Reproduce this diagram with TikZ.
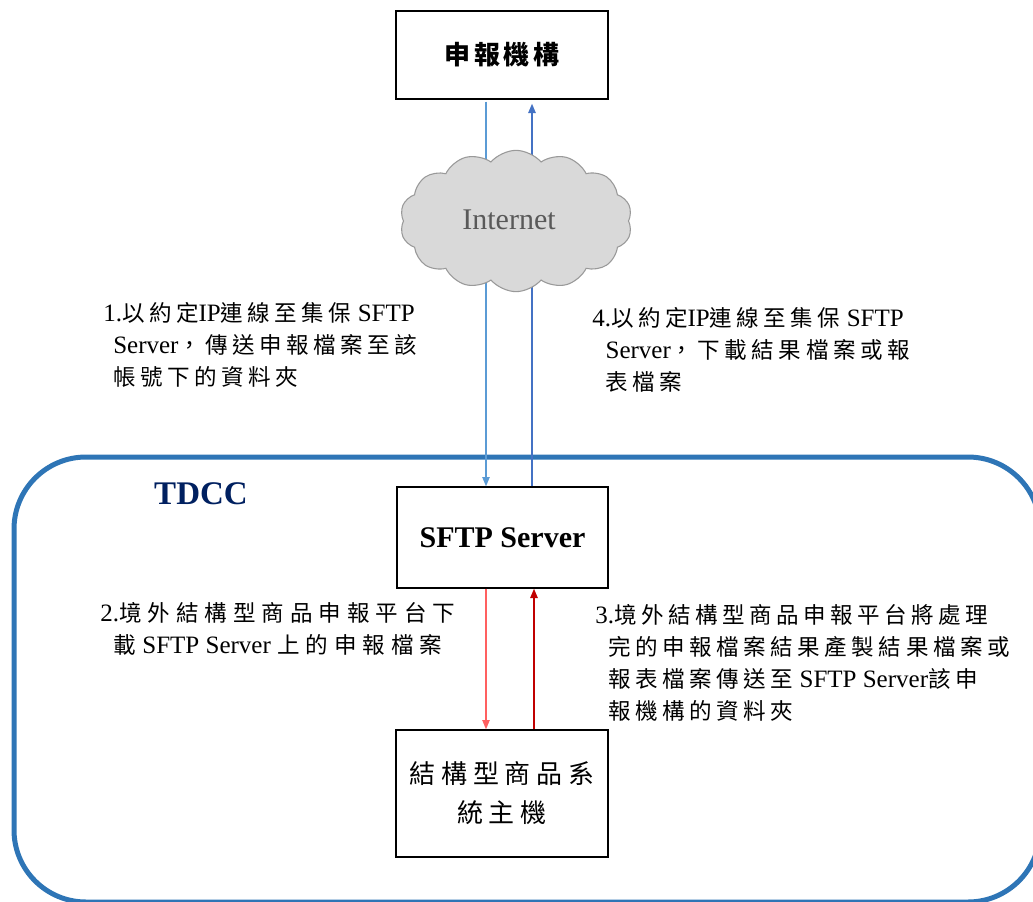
\documentclass[tikz,border=0pt]{standalone}
\usepackage{fontspec}
\setmainfont{Liberation Serif}
\newfontfamily\cjk[LetterSpace=20]{Noto Sans CJK TC}
\newfontfamily\cjkw[LetterSpace=26.5]{Noto Sans CJK TC}
\newfontfamily\cjkt[LetterSpace=15]{Noto Sans CJK TC}
\newfontfamily\cjkh[LetterSpace=22]{Noto Sans CJK TC}
\usetikzlibrary{arrows.meta,shapes.symbols}
\definecolor{tdccblue}{RGB}{46,117,182}
\definecolor{tdccnavy}{RGB}{0,32,96}
\definecolor{arrblueA}{RGB}{91,155,213}
\definecolor{arrblueB}{RGB}{68,114,196}
\definecolor{arrredA}{RGB}{255,96,96}
\definecolor{arrredB}{RGB}{192,0,0}
\newcommand\zh[1]{{\cjk\fontsize{16.9}{24}\selectfont #1}}
\newcommand\zhw[1]{{\cjkw\fontsize{16.9}{24}\selectfont #1}}
\tikzset{
  box/.style={draw=black, line width=1pt, fill=white, inner sep=0pt},
  lab/.style={align=left, anchor=north west, inner sep=0pt, font=\fontsize{18.75}{24}\selectfont},
  conn/.style={line width=1pt, -{Triangle[length=7pt,width=5.5pt]}},
}
\begin{document}
\begin{tikzpicture}[x=0.75pt,y=-0.75pt]
\useasboundingbox (0,0) rectangle (1033,901);
\clip (0,0) rectangle (1033,901);
\fill[white] (0,0) rectangle (1033,901);
% container
\draw[tdccblue, line width=3.75pt, rounded corners=54pt] (14,457) rectangle (1040,902);
% boxes
\node[box, minimum width=159pt, minimum height=66pt, font=\cjkt\bfseries\fontsize{19.5}{24}\selectfont] (top) at (502,55)
  {申報機構};
\node[box, minimum width=158.25pt, minimum height=75.75pt, font=\bfseries\fontsize{22.5}{26}\selectfont] (sftp) at (502.5,537.5)
  {SFTP Server};
\node[box, minimum width=159pt, minimum height=95.25pt, align=center, font=\cjkh\fontsize{19.5}{29.25}\selectfont] (host) at (502,793.5)
  {結構型商品系\\統主機};
% connector x positions
\coordinate (xa) at (486,0);
\coordinate (xb) at (532,0);
\coordinate (xc) at (486,0);
\coordinate (xd) at (534,0);
\draw[conn, arrblueA] ([yshift=-1.5pt]xa |- top.south) -- (xa |- sftp.north);
\draw[conn, arrblueB, line width=1.2pt] (xb |- sftp.north) -- ([yshift=-3pt]xb |- top.south);
\draw[conn, arrredA] (xc |- sftp.south) -- (xc |- host.north);
\draw[conn, arrredB, line width=1.2pt] (xd |- host.north) -- (xd |- sftp.south);
% cloud
\node[cloud, cloud puffs=14, cloud puff arc=100, aspect=1.63, draw=black!40, fill=black!15, line width=0.8pt,
      minimum width=174pt, minimum height=106pt, inner sep=0pt] (net) at (516,221) {};
\node[text=black!65, font=\fontsize{22.5}{26}\selectfont] (nettext) at (509,220) {Internet};
% TDCC
\node[text=tdccnavy, font=\bfseries\fontsize{24.75}{28}\selectfont] (tdcc) at (201,494) {TDCC};
% labels
\node[lab] (lab1) at (103,302) {1.\zh{以約定}IP\zh{連線至集保} SFTP\\\hspace*{7.5pt}Server\zh{，傳送申報檔案至該}\\\hspace*{7.5pt}\zh{帳號下的資料夾}};
\node[lab] (lab4) at (592,307) {4.\zh{以約定}IP\zh{連線至集保} SFTP\\\hspace*{10pt}Server\zh{，下載結果檔案或報}\\\hspace*{10pt}\zh{表檔案}};
\node[lab] (lab2) at (100,602) {2.\zhw{境外結構型商品申報平台下}\\\hspace*{10pt}\zhw{載} SFTP Server \zhw{上的申報檔案}};
\node[lab] (lab3) at (595,604) {3.\zh{境外結構型商品申報平台將處理}\\\hspace*{10pt}\zh{完的申報檔案結果產製結果檔案或}\\\hspace*{10pt}\zh{報表檔案傳送至} SFTP Server\zh{該申}\\\hspace*{10pt}\zh{報機構的資料夾}};
\end{tikzpicture}
\end{document}
